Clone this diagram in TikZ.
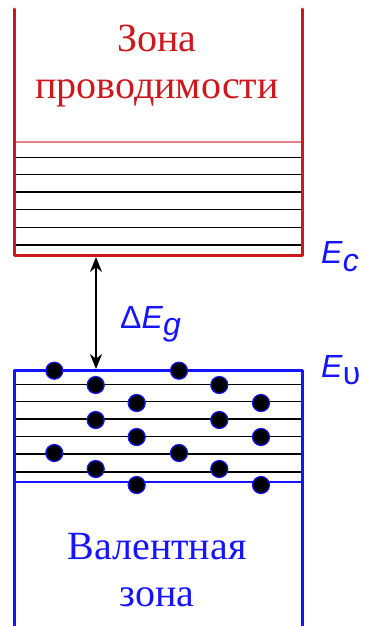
\documentclass[tikz,border=0pt]{standalone}
\usepackage{fontspec}
\setmainfont{Liberation Serif}
\newfontfamily\lsans{Liberation Sans}
\usetikzlibrary{arrows.meta}
\definecolor{cred}{RGB}{205,25,30}
\definecolor{cblue}{RGB}{20,20,255}
\tikzset{
  wall/.style={line width=3pt, line join=round, line cap=round},
  lvl/.style={black, line width=1.5pt},
  elec/.style={circle, fill=black, draw=cblue, line width=1.2pt, minimum size=17pt, inner sep=0pt},
  zlabel/.style={font=\fontsize{40}{47}\selectfont, align=center},
  elabel/.style={text=cblue, font=\lsans\fontsize{32}{32}\selectfont, inner sep=0pt, anchor=base west}
}
\begin{document}
\begin{tikzpicture}[x=1pt,y=-1pt]
\useasboundingbox (0,0) rectangle (366,626);
% conduction band
\coordinate (ctl) at (14,9);
\coordinate (ctr) at (302,9);
\coordinate (cbl) at (14,255);
\coordinate (cbr) at (302,255);
\foreach \y in {157.3,174.7,192,209.7,227.3,245} \draw[lvl] (14,\y) -- (302,\y);
\draw[cred!55, line width=2.2pt] (14,141.7) -- (302,141.7);
\draw[wall, cred] (ctl) -- (cbl) -- (cbr) -- (ctr);
\node[zlabel, text=cred] (cz) at (157,66) {Зона\\проводимости};
% valence band
\coordinate (vtl) at (14,370.7);
\coordinate (vtr) at (302,370.7);
\coordinate (vbl) at (14,630);
\coordinate (vbr) at (302,630);
\foreach \y in {384.3,401.7,419,436.7,454,472} \draw[lvl] (14,\y) -- (302,\y);
\draw[cblue, line width=1.8pt] (14,482.3) -- (302,482.3);
\draw[wall, cblue] (vbl) -- (vtl) -- (vtr) -- (vbr);
\node[zlabel, text=cblue] (vz) at (157,570) {Валентная\\зона};
% electrons
\foreach \x/\y [count=\i] in {54.3/370.7, 179/370.7,
  95.7/385, 219.3/385,
  136.7/403, 261/403,
  95.7/420, 219.3/420,
  136.7/437, 261/437,
  54.3/453, 179/453,
  95.7/469, 219.3/469,
  136.7/485, 261/485}
  \node[elec] (e\i) at (\x,\y) {};
% gap arrow
\coordinate (gt) at (96,257);
\coordinate (gb) at (96,369);
\draw[black, line width=1.3pt, {Stealth[length=15pt,width=12pt]}-{Stealth[length=15pt,width=12pt]}] (gt) -- (gb);
\node[elabel] (dEg) at (120,328) {Δ\textit{E}\raisebox{-7pt}{\textit{g}}};
\node[elabel] (Ec) at (321,263) {\textit{E}\raisebox{-8pt}{\textit{c}}};
\node[elabel] (Ev) at (321,377) {\textit{E}\raisebox{-7pt}{υ}};
\end{tikzpicture}
\end{document}
